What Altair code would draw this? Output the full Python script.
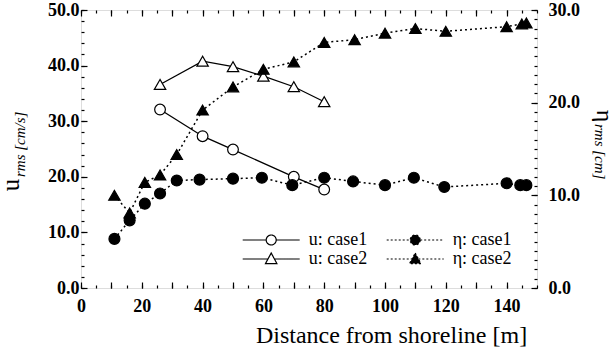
import altair as alt
import pandas as pd

FONT = "'Liberation Serif', 'Times New Roman', Times, 'DejaVu Serif', serif"

# ---- data ----
u1_x = [26, 40, 50, 70, 80]
u1_y = [32.1, 27.3, 24.9, 20.0, 17.7]
u2_x = [26, 40, 50, 60, 70, 80]
u2_y = [36.6, 40.8, 39.8, 38.1, 36.2, 33.5]
e1_x = [11, 16, 21, 26, 31.5, 39, 50, 59.5, 69.5, 80, 89.5, 100, 109.5, 119.5, 140, 144.5, 146.5]
e1_y = [5.3, 7.3, 9.1, 10.2, 11.6, 11.7, 11.8, 11.9, 11.1, 11.9, 11.5, 11.1, 11.9, 10.9, 11.3, 11.1, 11.1]
e2_x = [11, 16, 21, 26, 31.5, 40, 50, 60, 70, 80, 90, 100, 110, 120, 140, 145, 146.5]
e2_y = [10.0, 8.1, 11.4, 12.2, 14.4, 19.2, 21.7, 23.6, 24.4, 26.5, 26.8, 27.5, 28.0, 27.7, 28.2, 28.5, 28.6]

series_names = ["u: case1", "u: case2", "η: case1", "η: case2"]
legend_order = ["u: case1", "u: case2", "η: case1", "η: case2"]

x_ticks_major = list(range(0, 150, 10))
x_ticks_minor = list(range(0, 151, 5))
yl_ticks_major = [0, 10, 20, 30, 40, 50]
yl_ticks_minor = list(range(0, 51, 2))
yr_ticks_major = [0, 10, 20, 30]
yr_ticks_minor = list(range(0, 31, 1))

rows = []
for name, xs, ys in zip(series_names, [u1_x, u2_x, e1_x, e2_x], [u1_y, u2_y, e1_y, e2_y]):
    for a, b in zip(xs, ys):
        rows.append({"series": name, "x": a, "v": b})
df = pd.DataFrame(rows)

xscale = alt.Scale(domain=[0, 150], nice=False, zero=False)
yl_scale = alt.Scale(domain=[0, 50], nice=False)
yr_scale = alt.Scale(domain=[0, 30], nice=False)

common = dict(domain=False, grid=False, tickColor="black", tickWidth=1.2,
              labelFont=FONT, labelFontSize=18, labelFontWeight="bold",
              labelColor="black", labelFlush=False, labelOverlap=False, title=None)


def ax(orient, values, size, labels=False, **kw):
    d = dict(common)
    d.update(kw)
    return alt.Axis(orient=orient, values=values, tickSize=size, offset=-size,
                    labels=labels, **d)


xb_major = alt.Axis(orient="bottom", values=x_ticks_major, tickSize=6, offset=-6,
                    domain=False, grid=False, tickColor="black", tickWidth=1.2,
                    labelFont=FONT, labelFontSize=18, labelFontWeight="bold",
                    labelColor="black", labelFlush=False, labelOverlap=False,
                    labelPadding=9,
                    labelExpr="datum.value % 20 == 0 ? datum.label : ''",
                    title="Distance from shoreline [m]", titleFont=FONT,
                    titleFontSize=24, titleFontWeight="normal", titleColor="black",
                    titleX=310, titleY=60, titleAlign="center",
                    titleBaseline="alphabetic", titleAnchor="start")
xb_minor = ax("bottom", x_ticks_minor, 3)
xt_major = ax("top", x_ticks_major, 6)
xt_minor = ax("top", x_ticks_minor, 3)
yl_major = ax("left", yl_ticks_major, 6, labels=True, format=".1f", labelPadding=2)
yl_minor = ax("left", yl_ticks_minor, 3)
yr_major = ax("right", yr_ticks_major, 6, labels=True, format=".1f", labelPadding=11)
yr_minor = ax("right", yr_ticks_minor, 3)

base = alt.Chart(df)

u_line = base.mark_line(color="black", strokeWidth=1.3).encode(
    x=alt.X("x:Q", scale=xscale, axis=xb_major),
    y=alt.Y("v:Q", scale=yl_scale, axis=yl_major),
    detail="series:N",
).transform_filter(alt.FieldOneOfPredicate(field="series", oneOf=["u: case1", "u: case2"]))

e_line = base.mark_line(color="black", strokeWidth=1.5, strokeDash=[2, 3]).encode(
    x=alt.X("x:Q", scale=xscale, axis=xt_minor),
    y=alt.Y("v:Q", scale=yr_scale, axis=yr_major),
    detail="series:N",
).transform_filter(alt.FieldOneOfPredicate(field="series", oneOf=["η: case1", "η: case2"]))


def pts(name, shape, fill, xaxis, yaxis, yscale, size):
    return base.mark_point(shape=shape, filled=True, fill=fill, stroke="black",
                           strokeWidth=1.2, opacity=1, size=size).encode(
        x=alt.X("x:Q", scale=xscale, axis=xaxis),
        y=alt.Y("v:Q", scale=yscale, axis=yaxis),
    ).transform_filter(alt.datum.series == name)


u1_pts = pts("u: case1", "circle", "white", xb_minor, yl_minor, yl_scale, 115)
u2_pts = pts("u: case2", "triangle-up", "white", xt_major, None, yl_scale, 130)
e1_pts = pts("η: case1", "circle", "black", None, yr_minor, yr_scale, 120)
e2_pts = pts("η: case2", "triangle-up", "black", None, None, yr_scale, 130)

# ---- legend (real Vega legend with line+marker symbols) ----
r = 0.175
t = 0.2
tm = 0.11
p_circle = (f"M-1,0L{-r},0M{r},0L1,0M{r},0A{r},{r} 0 1,1 {-r},0"
            f"A{r},{r} 0 1,1 {r},0Z")
p_tri = f"M-1,0L{-tm},0M{tm},0L1,0M0,-0.21L{t},0.16L{-t},0.16Z"

leg = alt.Legend(orient="none", legendX=160.7, legendY=220.5, columns=2,
                 clipHeight=19, symbolOffset=0, labelOffset=8, columnPadding=18,
                 rowPadding=0, padding=0, title=None, labelFont=FONT,
                 labelFontSize=18, labelColor="black", labelLimit=300,
                 symbolSize=3249, symbolStrokeWidth=1.2, symbolStrokeColor="black",
                 symbolFillColor="white", symbolOpacity=1)

legend_layer = base.mark_point(filled=True, stroke="black", strokeWidth=1.2,
                               opacity=1).encode(
    shape=alt.Shape("series:N", scale=alt.Scale(domain=legend_order,
                    range=[p_circle, p_tri, p_circle, p_tri]), legend=leg),
    fill=alt.Fill("series:N", scale=alt.Scale(domain=legend_order,
                  range=["white", "white", "black", "black"]), legend=leg),
    strokeDash=alt.StrokeDash("series:N", scale=alt.Scale(domain=legend_order,
                              range=[[1, 0], [1, 0], [2, 2], [2, 2]]), legend=leg),
).transform_filter("false")

# ---- axis titles with subscripts ----
def txt(s, x, y, size, angle, align, style="normal"):
    return alt.Chart(pd.DataFrame({"t": [s]})).mark_text(
        font=FONT, fontSize=size, angle=angle, align=align, baseline="alphabetic",
        fontStyle=style, color="black").encode(
        text="t:N", x=alt.value(x), y=alt.value(y))


t_u = txt("u", -62, 175, 25, 270, "center")
t_us = txt("rms [cm/s]", -56, 167, 15, 270, "left", "italic")
t_e = txt("η", 516, 106, 24, 90, "center")
t_es = txt("rms [cm]", 514, 114, 15, 90, "left", "italic")

chart = alt.layer(
    u_line, e_line, u1_pts, u2_pts, e1_pts, e2_pts, legend_layer,
    t_u, t_us, t_e, t_es,
).resolve_scale(
    y="independent", shape="independent", fill="independent", strokeDash="independent"
).resolve_axis(
    x="independent", y="independent"
).properties(
    width=456, height=278,
    padding={"left": 81, "top": 10, "right": 77, "bottom": 66},
    autosize=alt.AutoSizeParams(type="none"),
).configure_view(
    stroke="black", strokeWidth=1.8
).configure(background="white")

chart.save("out.html", embed_options={"renderer": "svg", "actions": False})
